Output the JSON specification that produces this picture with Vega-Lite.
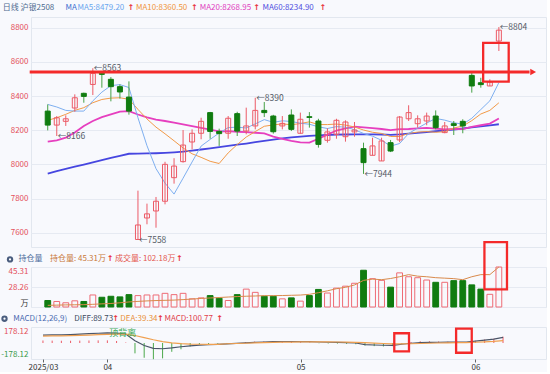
{
"$schema": "https://vega.github.io/schema/vega-lite/v6.json",
"background": "#f8f9fd",
"padding": {"left": 0, "top": 3, "right": 0, "bottom": 0},
"autosize": {"type": "pad"},
"spacing": 20,
"bounds": "flush",
"config": {"font": "Noto Sans CJK SC", "view": {"stroke": "#e2e7ef"}, "axis": {"domain": false, "ticks": false, "labelFontSize": 8, "gridColor": "#e6eaf2", "labelFont": "Noto Sans CJK SC", "labelOverlap": false}},
"datasets": {
"k": [
{"i":0,"d":"2025-03-21","o":8312,"h":8351,"l":8199,"c":8230,"v":16.6,"oi":12.6,"m5":8351,"m10":8258,"m20":8133,"m60":7946,"df":126,"de":110,"mc":40},
{"i":1,"d":"2025-03-24","o":8230,"h":8283,"l":8166,"c":8273,"v":14.1,"oi":12.8,"m5":8336,"m10":8273,"m20":8141,"m60":7960,"df":128,"de":112,"mc":38},
{"i":2,"d":"2025-03-25","o":8252,"h":8287,"l":8225,"c":8267,"v":10.8,"oi":13.0,"m5":8316,"m10":8293,"m20":8156,"m60":7973,"df":130,"de":115,"mc":36},
{"i":3,"d":"2025-03-26","o":8330,"h":8410,"l":8308,"c":8390,"v":15.8,"oi":13.1,"m5":8312,"m10":8316,"m20":8186,"m60":7986,"df":134,"de":118,"mc":36},
{"i":4,"d":"2025-03-27","o":8416,"h":8420,"l":8361,"c":8398,"v":14.1,"oi":13.2,"m5":8312,"m10":8332,"m20":8225,"m60":7999,"df":140,"de":122,"mc":38},
{"i":5,"d":"2025-03-28","o":8468,"h":8563,"l":8406,"c":8533,"v":30.7,"oi":13.5,"m5":8372,"m10":8361,"m20":8254,"m60":8012,"df":148,"de":127,"mc":40},
{"i":6,"d":"2025-03-31","o":8533,"h":8535,"l":8449,"c":8527,"v":24.9,"oi":13.9,"m5":8423,"m10":8380,"m20":8277,"m60":8025,"df":155,"de":132,"mc":42},
{"i":7,"d":"2025-04-01","o":8498,"h":8511,"l":8369,"c":8455,"v":27.4,"oi":14.2,"m5":8461,"m10":8388,"m20":8293,"m60":8038,"df":160,"de":137,"mc":42},
{"i":8,"d":"2025-04-02","o":8455,"h":8468,"l":8385,"c":8424,"v":25.8,"oi":14.8,"m5":8467,"m10":8390,"m20":8309,"m60":8050,"df":158,"de":141,"mc":32},
{"i":9,"d":"2025-04-03","o":8394,"h":8486,"l":8291,"c":8312,"v":31.6,"oi":15.5,"m5":8450,"m10":8381,"m20":8312,"m60":8062,"df":142,"de":140,"mc":8},
{"i":10,"d":"2025-04-07","o":7560,"h":7846,"l":7558,"c":7645,"v":29.1,"oi":16.0,"m5":8273,"m10":8322,"m20":8292,"m60":8063,"df":35,"de":119,"mc":-165},
{"i":11,"d":"2025-04-08","o":7686,"h":7770,"l":7649,"c":7710,"v":30.7,"oi":16.4,"m5":8109,"m10":8266,"m20":8275,"m60":8064,"df":-40,"de":87,"mc":-235},
{"i":12,"d":"2025-04-09","o":7727,"h":7809,"l":7629,"c":7784,"v":30.7,"oi":16.7,"m5":7975,"m10":8218,"m20":8262,"m60":8065,"df":-85,"de":52,"mc":-258},
{"i":13,"d":"2025-04-10","o":7784,"h":8015,"l":7766,"c":8000,"v":34.9,"oi":16.9,"m5":7890,"m10":8179,"m20":8254,"m60":8067,"df":-92,"de":23,"mc":-245},
{"i":14,"d":"2025-04-11","o":7922,"h":8036,"l":7887,"c":7990,"v":31.6,"oi":17.1,"m5":7826,"m10":8138,"m20":8245,"m60":8070,"df":-78,"de":3,"mc":-140},
{"i":15,"d":"2025-04-14","o":8016,"h":8201,"l":8010,"c":8113,"v":34.9,"oi":17.5,"m5":7919,"m10":8096,"m20":8234,"m60":8074,"df":-60,"de":-10,"mc":-100},
{"i":16,"d":"2025-04-15","o":8131,"h":8205,"l":8088,"c":8182,"v":20.8,"oi":18.0,"m5":8014,"m10":8062,"m20":8224,"m60":8080,"df":-45,"de":-17,"mc":-55},
{"i":17,"d":"2025-04-16","o":8182,"h":8273,"l":8147,"c":8252,"v":23.3,"oi":18.5,"m5":8107,"m10":8041,"m20":8214,"m60":8087,"df":-35,"de":-20,"mc":-30},
{"i":18,"d":"2025-04-17","o":8303,"h":8307,"l":8150,"c":8193,"v":29.1,"oi":18.9,"m5":8146,"m10":8018,"m20":8204,"m60":8094,"df":-28,"de":-22,"mc":-18},
{"i":19,"d":"2025-04-18","o":8193,"h":8209,"l":8108,"c":8180,"v":22.4,"oi":19.3,"m5":8184,"m10":8005,"m20":8193,"m60":8101,"df":-22,"de":-22,"mc":-12},
{"i":20,"d":"2025-04-21","o":8182,"h":8283,"l":8150,"c":8270,"v":16.6,"oi":19.7,"m5":8215,"m10":8067,"m20":8195,"m60":8108,"df":-14,"de":-12,"mc":-8},
{"i":21,"d":"2025-04-22","o":8297,"h":8308,"l":8166,"c":8195,"v":31.6,"oi":20.1,"m5":8218,"m10":8116,"m20":8191,"m60":8115,"df":-6,"de":-8,"mc":-5},
{"i":22,"d":"2025-04-23","o":8195,"h":8332,"l":8176,"c":8225,"v":45.7,"oi":20.4,"m5":8213,"m10":8160,"m20":8189,"m60":8122,"df":2,"de":-4,"mc":15},
{"i":23,"d":"2025-04-24","o":8225,"h":8390,"l":8205,"c":8316,"v":37.4,"oi":20.6,"m5":8237,"m10":8192,"m20":8185,"m60":8130,"df":10,"de":1,"mc":22},
{"i":24,"d":"2025-04-25","o":8316,"h":8365,"l":8277,"c":8303,"v":27.4,"oi":20.9,"m5":8262,"m10":8223,"m20":8181,"m60":8137,"df":16,"de":6,"mc":25},
{"i":25,"d":"2025-04-28","o":8283,"h":8290,"l":8180,"c":8191,"v":27.4,"oi":20.9,"m5":8246,"m10":8231,"m20":8163,"m60":8145,"df":22,"de":10,"mc":22},
{"i":26,"d":"2025-04-29","o":8225,"h":8283,"l":8205,"c":8240,"v":20.8,"oi":21.0,"m5":8255,"m10":8237,"m20":8149,"m60":8152,"df":24,"de":13,"mc":20},
{"i":27,"d":"2025-04-30","o":8289,"h":8322,"l":8195,"c":8205,"v":23.3,"oi":21.2,"m5":8251,"m10":8232,"m20":8137,"m60":8158,"df":24,"de":15,"mc":18},
{"i":28,"d":"2025-05-06","o":8182,"h":8303,"l":8180,"c":8264,"v":15.0,"oi":21.4,"m5":8241,"m10":8239,"m20":8129,"m60":8163,"df":23,"de":17,"mc":12},
{"i":29,"d":"2025-05-07","o":8279,"h":8306,"l":8215,"c":8275,"v":29.1,"oi":22.0,"m5":8235,"m10":8249,"m20":8127,"m60":8167,"df":22,"de":18,"mc":8},
{"i":30,"d":"2025-05-08","o":8254,"h":8267,"l":8098,"c":8117,"v":44.9,"oi":23.4,"m5":8220,"m10":8233,"m20":8150,"m60":8170,"df":16,"de":18,"mc":-4},
{"i":31,"d":"2025-05-09","o":8141,"h":8211,"l":8127,"c":8190,"v":35.7,"oi":25.0,"m5":8210,"m10":8233,"m20":8174,"m60":8172,"df":12,"de":17,"mc":-8},
{"i":32,"d":"2025-05-12","o":8176,"h":8267,"l":8150,"c":8258,"v":48.2,"oi":26.8,"m5":8221,"m10":8236,"m20":8198,"m60":8174,"df":10,"de":16,"mc":-10},
{"i":33,"d":"2025-05-13","o":8162,"h":8258,"l":8133,"c":8248,"v":53.2,"oi":28.0,"m5":8218,"m10":8230,"m20":8211,"m60":8175,"df":6,"de":14,"mc":-14},
{"i":34,"d":"2025-05-14","o":8190,"h":8248,"l":8162,"c":8201,"v":60.6,"oi":30.0,"m5":8203,"m10":8219,"m20":8221,"m60":8176,"df":0,"de":11,"mc":-20},
{"i":35,"d":"2025-05-15","o":8092,"h":8127,"l":7944,"c":8010,"v":93.9,"oi":33.9,"m5":8181,"m10":8201,"m20":8216,"m60":8176,"df":-25,"de":5,"mc":-40},
{"i":36,"d":"2025-05-16","o":8053,"h":8156,"l":8053,"c":8108,"v":72.3,"oi":35.0,"m5":8165,"m10":8188,"m20":8212,"m60":8176,"df":-32,"de":-2,"mc":-50},
{"i":37,"d":"2025-05-19","o":8020,"h":8156,"l":8020,"c":8137,"v":68.1,"oi":34.5,"m5":8141,"m10":8181,"m20":8207,"m60":8175,"df":-36,"de":-8,"mc":-55},
{"i":38,"d":"2025-05-20","o":8127,"h":8143,"l":8072,"c":8078,"v":50.7,"oi":35.5,"m5":8107,"m10":8163,"m20":8201,"m60":8173,"df":-38,"de":-13,"mc":-50},
{"i":39,"d":"2025-05-21","o":8143,"h":8283,"l":8130,"c":8277,"v":87.2,"oi":37.0,"m5":8122,"m10":8163,"m20":8206,"m60":8175,"df":-20,"de":-14,"mc":-12},
{"i":40,"d":"2025-05-22","o":8267,"h":8346,"l":8254,"c":8303,"v":77.3,"oi":38.8,"m5":8181,"m10":8181,"m20":8207,"m60":8180,"df":-4,"de":-12,"mc":16},
{"i":41,"d":"2025-05-23","o":8238,"h":8287,"l":8215,"c":8267,"v":74.8,"oi":37.5,"m5":8212,"m10":8189,"m20":8211,"m60":8184,"df":6,"de":-8,"mc":28},
{"i":42,"d":"2025-05-26","o":8254,"h":8303,"l":8229,"c":8283,"v":68.9,"oi":37.0,"m5":8242,"m10":8192,"m20":8214,"m60":8189,"df":10,"de":-4,"mc":28},
{"i":43,"d":"2025-05-27","o":8283,"h":8316,"l":8205,"c":8215,"v":63.1,"oi":36.2,"m5":8269,"m10":8188,"m20":8209,"m60":8194,"df":12,"de":0,"mc":24},
{"i":44,"d":"2025-05-28","o":8186,"h":8248,"l":8182,"c":8225,"v":63.1,"oi":35.8,"m5":8259,"m10":8191,"m20":8205,"m60":8199,"df":13,"de":3,"mc":20},
{"i":45,"d":"2025-05-29","o":8238,"h":8254,"l":8172,"c":8228,"v":67.3,"oi":35.4,"m5":8244,"m10":8213,"m20":8207,"m60":8204,"df":14,"de":5,"mc":18},
{"i":46,"d":"2025-05-30","o":8252,"h":8264,"l":8182,"c":8225,"v":67.3,"oi":34.5,"m5":8235,"m10":8224,"m20":8206,"m60":8210,"df":15,"de":7,"mc":16},
{"i":47,"d":"2025-06-03","o":8521,"h":8537,"l":8420,"c":8459,"v":56.5,"oi":37.0,"m5":8270,"m10":8256,"m20":8219,"m60":8216,"df":30,"de":12,"mc":36},
{"i":48,"d":"2025-06-04","o":8478,"h":8507,"l":8449,"c":8467,"v":45.7,"oi":38.8,"m5":8321,"m10":8295,"m20":8229,"m60":8222,"df":46,"de":18,"mc":56},
{"i":49,"d":"2025-06-05","o":8459,"h":8498,"l":8459,"c":8482,"v":32.4,"oi":38.8,"m5":8372,"m10":8316,"m20":8239,"m60":8228,"df":62,"de":27,"mc":70},
{"i":50,"d":"2025-06-06","o":8722,"h":8804,"l":8664,"c":8786,"v":102.18,"oi":45.31,"m5":8479.2,"m10":8360.5,"m20":8268.95,"m60":8234.9,"df":89.73,"de":39.34,"mc":100.77}
],
"n": [
{"i":5,"p":8563,"t":"←8563"},
{"i":1,"p":8166,"t":"←8166"},
{"i":10,"p":7558,"t":"←7558"},
{"i":23,"p":8390,"t":"←8390"},
{"i":35,"p":7944,"t":"←7944"},
{"i":50,"p":8804,"t":"←8804"}
]
},
"vconcat": [
{
"width": 515, "height": 230,
"data": {"name": "k"},
"layer": [
{"mark": {"type": "line", "color": "#4646e0", "strokeWidth": 1.8},
 "encoding": {"x": {"field": "i", "type": "quantitative", "scale": {"domain": [-1.3, 54.67], "nice": false, "zero": false}, "axis": null},
  "y": {"field": "m60", "type": "quantitative", "scale": {"domain": [7516, 8863], "nice": false, "zero": false},
   "axis": {"values": [7600, 7800, 8000, 8200, 8400, 8600, 8800], "tickCount": 20, "format": "d", "grid": true, "labelOverlap": false, "labelColor": "#e4505a", "labelPadding": 3, "title": null}}}},
{"mark": {"type": "line", "color": "#e63fbf", "strokeWidth": 1.8},
 "encoding": {"x": {"field": "i", "type": "quantitative"}, "y": {"field": "m20", "type": "quantitative"}}},
{"mark": {"type": "line", "color": "#f29a48", "strokeWidth": 1},
 "encoding": {"x": {"field": "i", "type": "quantitative"}, "y": {"field": "m10", "type": "quantitative"}}},
{"mark": {"type": "line", "color": "#7eaff0", "strokeWidth": 1},
 "encoding": {"x": {"field": "i", "type": "quantitative"}, "y": {"field": "m5", "type": "quantitative"}}},
{"mark": {"type": "rule", "strokeWidth": 1},
 "encoding": {"x": {"field": "i", "type": "quantitative"}, "y": {"field": "l", "type": "quantitative"}, "y2": {"field": "h"},
  "color": {"condition": {"test": "datum.c >= datum.o", "value": "#ec5b67"}, "value": "#46a046"}}},
{"mark": {"type": "bar", "size": 5, "strokeWidth": 1},
 "encoding": {"x": {"field": "i", "type": "quantitative"}, "y": {"field": "o", "type": "quantitative"}, "y2": {"field": "c"},
  "fill": {"condition": {"test": "datum.c >= datum.o", "value": "transparent"}, "value": "#107c10"},
  "stroke": {"condition": {"test": "datum.c >= datum.o", "value": "#ec5b67"}, "value": "#107c10"}}},
{"data": {"name": "n"},
 "mark": {"type": "text", "align": "left", "baseline": "middle", "dx": 1, "fontSize": 8.5, "color": "#555b66"},
 "encoding": {"x": {"field": "i", "type": "quantitative"}, "y": {"field": "p", "type": "quantitative"}, "text": {"field": "t"}}},
{"data": {"values": [{}]},
 "mark": {"type": "rule", "color": "#f42a2a", "strokeWidth": 3},
 "encoding": {"x": {"datum": -2.0}, "x2": {"datum": 53.4}, "y": {"datum": 8541}}},
{"data": {"values": [{}]},
 "mark": {"type": "point", "shape": "triangle-right", "filled": true, "size": 45, "color": "#f42a2a", "opacity": 1},
 "encoding": {"x": {"datum": 53.8}, "y": {"datum": 8541}}},
{"data": {"values": [{}]},
 "mark": {"type": "rect", "filled": false, "color": "#f42a2a", "strokeWidth": 2.3},
 "encoding": {"x": {"datum": 48.26}, "x2": {"datum": 51.09}, "y": {"datum": 8712}, "y2": {"datum": 8484}}},
{"data": {"values": [{}]}, "mark": {"type": "text", "align": "left", "baseline": "middle", "fontSize": 8, "color": "#4d6a8f"},
 "encoding": {"x": {"datum": -4.99}, "y": {"datum": 8915}, "text": {"value": "日线 沪银2508"}}},
{"data": {"values": [{}]}, "mark": {"type": "text", "align": "left", "baseline": "middle", "fontSize": 8, "color": "#3d6fd0"},
 "encoding": {"x": {"datum": 1.96}, "y": {"datum": 8915}, "text": {"value": "MA"}}},
{"data": {"values": [{}]}, "mark": {"type": "text", "align": "left", "baseline": "middle", "fontSize": 8, "color": "#6aa6ee"},
 "encoding": {"x": {"datum": 3.29}, "y": {"datum": 8915}, "text": {"value": "MA5:8479.20"}}},
{"data": {"values": [{}]}, "mark": {"type": "text", "align": "center", "baseline": "middle", "font": "DejaVu Sans", "fontSize": 8, "fontWeight": "bold", "color": "#e8303a"},
 "encoding": {"x": {"datum": 9.2}, "y": {"datum": 8915}, "text": {"value": "↑"}}},
{"data": {"values": [{}]}, "mark": {"type": "text", "align": "left", "baseline": "middle", "fontSize": 8, "color": "#f0963c"},
 "encoding": {"x": {"datum": 9.78}, "y": {"datum": 8915}, "text": {"value": "MA10:8360.50"}}},
{"data": {"values": [{}]}, "mark": {"type": "text", "align": "center", "baseline": "middle", "font": "DejaVu Sans", "fontSize": 8, "fontWeight": "bold", "color": "#e8303a"},
 "encoding": {"x": {"datum": 16.25}, "y": {"datum": 8915}, "text": {"value": "↑"}}},
{"data": {"values": [{}]}, "mark": {"type": "text", "align": "left", "baseline": "middle", "fontSize": 8, "color": "#e040c0"},
 "encoding": {"x": {"datum": 16.85}, "y": {"datum": 8915}, "text": {"value": "MA20:8268.95"}}},
{"data": {"values": [{}]}, "mark": {"type": "text", "align": "center", "baseline": "middle", "font": "DejaVu Sans", "fontSize": 8, "fontWeight": "bold", "color": "#e8303a"},
 "encoding": {"x": {"datum": 23.15}, "y": {"datum": 8915}, "text": {"value": "↑"}}},
{"data": {"values": [{}]}, "mark": {"type": "text", "align": "left", "baseline": "middle", "fontSize": 8, "color": "#5050e0"},
 "encoding": {"x": {"datum": 23.8}, "y": {"datum": 8915}, "text": {"value": "MA60:8234.90"}}},
{"data": {"values": [{}]}, "mark": {"type": "text", "align": "center", "baseline": "middle", "font": "DejaVu Sans", "fontSize": 8, "fontWeight": "bold", "color": "#e8303a"},
 "encoding": {"x": {"datum": 30.5}, "y": {"datum": 8915}, "text": {"value": "↑"}}}
]
},
{
"width": 515, "height": 40,
"data": {"name": "k"},
"resolve": {"scale": {"y": "independent"}},
"layer": [
{"mark": {"type": "bar", "size": 5.8, "strokeWidth": 1},
 "encoding": {"x": {"field": "i", "type": "quantitative", "scale": {"domain": [-1.3, 54.67], "nice": false, "zero": false}, "axis": null},
  "y": {"field": "v", "type": "quantitative", "scale": {"domain": [0, 102.18], "nice": false}, "axis": null}, "y2": {"datum": 0},
  "fill": {"condition": {"test": "datum.c >= datum.o", "value": "transparent"}, "value": "#107c10"},
  "stroke": {"condition": {"test": "datum.c >= datum.o", "value": "#ee6b75"}, "value": "#107c10"}}},
{"layer": [
 {"mark": {"type": "line", "color": "#d98a4c", "strokeWidth": 1},
  "encoding": {"x": {"field": "i", "type": "quantitative"},
   "y": {"field": "oi", "type": "quantitative", "scale": {"domain": [11.21, 45.31], "nice": false, "zero": false},
    "axis": {"orient": "left", "values": [11.21, 28.26, 45.31], "tickCount": 20, "grid": true, "title": null, "labelPadding": 3, "labelOverlap": false, "labelFlush": true,
     "labelExpr": "datum.value < 12 ? '万' : format(datum.value, '.2f')",
     "labelColor": {"condition": {"test": "datum.value < 12", "value": "#333333"}, "value": "#e4505a"}}}}},
 {"data": {"values": [{}]},
  "mark": {"type": "rect", "filled": false, "color": "#f42a2a", "strokeWidth": 2.3},
  "encoding": {"x": {"datum": 48.4}, "x2": {"datum": 50.9}, "y": {"datum": 66.6}, "y2": {"datum": 26.3}}},
 {"data": {"values": [{}]}, "mark": {"type": "point", "shape": "circle", "filled": true, "size": 40, "color": "#4a5d7e", "opacity": 1},
  "encoding": {"x": {"datum": -4.18}, "y": {"datum": 51.8}}},
 {"data": {"values": [{}]}, "mark": {"type": "point", "shape": "circle", "filled": true, "size": 5, "color": "#ffffff", "opacity": 1},
  "encoding": {"x": {"datum": -4.18}, "y": {"datum": 51.8}}},
 {"data": {"values": [{}]}, "mark": {"type": "text", "align": "left", "baseline": "middle", "fontSize": 8, "color": "#4a6a9a"},
  "encoding": {"x": {"datum": -3.23}, "y": {"datum": 51.8}, "text": {"value": "持仓量"}}},
 {"data": {"values": [{}]}, "mark": {"type": "text", "align": "left", "baseline": "middle", "fontSize": 8, "color": "#c8783a"},
  "encoding": {"x": {"datum": 0.25}, "y": {"datum": 51.8}, "text": {"value": "持仓量: 45.31万"}}},
 {"data": {"values": [{}]}, "mark": {"type": "text", "align": "center", "baseline": "middle", "font": "DejaVu Sans", "fontSize": 8, "fontWeight": "bold", "color": "#e8303a"},
  "encoding": {"x": {"datum": 6.9}, "y": {"datum": 51.8}, "text": {"value": "↑"}}},
 {"data": {"values": [{}]}, "mark": {"type": "text", "align": "left", "baseline": "middle", "fontSize": 8, "color": "#e4574e"},
  "encoding": {"x": {"datum": 7.45}, "y": {"datum": 51.8}, "text": {"value": "成交量: 102.18万"}}},
 {"data": {"values": [{}]}, "mark": {"type": "text", "align": "center", "baseline": "middle", "font": "DejaVu Sans", "fontSize": 8, "fontWeight": "bold", "color": "#e8303a"},
  "encoding": {"x": {"datum": 14.6}, "y": {"datum": 51.8}, "text": {"value": "↑"}}}
]}
]
},
{
"width": 515, "height": 32,
"data": {"name": "k"},
"layer": [
{"mark": {"type": "rule", "strokeWidth": 1},
 "encoding": {"x": {"field": "i", "type": "quantitative", "scale": {"domain": [-1.3, 54.67], "nice": false, "zero": false},
   "axis": {"values": [0, 7, 28, 47], "tickCount": 20, "ticks": true, "tickSize": 3, "tickColor": "#666666", "labelColor": "#333333", "labelPadding": 1, "grid": false, "title": null, "labelOverlap": false,
    "labelExpr": "datum.value == 0 ? '2025/03' : datum.value == 7 ? '04' : datum.value == 28 ? '05' : '06'"}},
  "y": {"field": "mc", "type": "quantitative", "scale": {"domain": [-255, 255], "nice": false, "zero": false},
   "axis": {"values": [-178.12, 178.12], "tickCount": 20, "grid": false, "title": null, "labelPadding": 3, "labelOverlap": false,
    "labelExpr": "datum.value > 0 ? '178.12' : '-178.12'",
    "labelColor": {"condition": {"test": "datum.value < 0", "value": "#3a9a4a"}, "value": "#e4505a"}}},
  "y2": {"datum": 0},
  "color": {"condition": {"test": "datum.mc >= 0", "value": "#ec5b67"}, "value": "#4aa84a"}}},
{"mark": {"type": "line", "color": "#4a5568", "strokeWidth": 1.2},
 "encoding": {"x": {"field": "i", "type": "quantitative"}, "y": {"field": "df", "type": "quantitative"}}},
{"mark": {"type": "line", "color": "#f0a050", "strokeWidth": 1.2},
 "encoding": {"x": {"field": "i", "type": "quantitative"}, "y": {"field": "de", "type": "quantitative"}}},
{"data": {"values": [{}]}, "mark": {"type": "text", "align": "center", "baseline": "middle", "fontSize": 9, "color": "#3aaa58"},
 "encoding": {"x": {"datum": 8.66}, "y": {"datum": 164}, "text": {"value": "顶背离"}}},
{"data": {"values": [{}]},
 "mark": {"type": "rect", "filled": false, "color": "#f42a2a", "strokeWidth": 2.3},
 "encoding": {"x": {"datum": 38.18}, "x2": {"datum": 39.78}, "y": {"datum": 155}, "y2": {"datum": -132}}},
{"data": {"values": [{}]},
 "mark": {"type": "rect", "filled": false, "color": "#f42a2a", "strokeWidth": 2.3},
 "encoding": {"x": {"datum": 44.9}, "x2": {"datum": 46.6}, "y": {"datum": 228}, "y2": {"datum": -155}}},
{"data": {"values": [{}]}, "mark": {"type": "point", "shape": "circle", "filled": true, "size": 40, "color": "#4a5d7e", "opacity": 1},
 "encoding": {"x": {"datum": -4.18}, "y": {"datum": 387}}},
{"data": {"values": [{}]}, "mark": {"type": "point", "shape": "circle", "filled": true, "size": 5, "color": "#ffffff", "opacity": 1},
 "encoding": {"x": {"datum": -4.18}, "y": {"datum": 387}}},
{"data": {"values": [{}]}, "mark": {"type": "text", "align": "left", "baseline": "middle", "fontSize": 8, "color": "#4a6ab0"},
 "encoding": {"x": {"datum": -3.23}, "y": {"datum": 387}, "text": {"value": "MACD(12,26,9)"}}},
{"data": {"values": [{}]}, "mark": {"type": "text", "align": "left", "baseline": "middle", "fontSize": 8, "color": "#3d4b5f"},
 "encoding": {"x": {"datum": 3.4}, "y": {"datum": 387}, "text": {"value": "DIFF:89.73"}}},
{"data": {"values": [{}]}, "mark": {"type": "text", "align": "center", "baseline": "middle", "font": "DejaVu Sans", "fontSize": 8, "fontWeight": "bold", "color": "#e8303a"},
 "encoding": {"x": {"datum": 7.9}, "y": {"datum": 387}, "text": {"value": "↑"}}},
{"data": {"values": [{}]}, "mark": {"type": "text", "align": "left", "baseline": "middle", "fontSize": 8, "color": "#e8903a"},
 "encoding": {"x": {"datum": 8.4}, "y": {"datum": 387}, "text": {"value": "DEA:39.34"}}},
{"data": {"values": [{}]}, "mark": {"type": "text", "align": "center", "baseline": "middle", "font": "DejaVu Sans", "fontSize": 8, "fontWeight": "bold", "color": "#e8303a"},
 "encoding": {"x": {"datum": 12.75}, "y": {"datum": 387}, "text": {"value": "↑"}}},
{"data": {"values": [{}]}, "mark": {"type": "text", "align": "left", "baseline": "middle", "fontSize": 8, "color": "#e0404a"},
 "encoding": {"x": {"datum": 13.2}, "y": {"datum": 387}, "text": {"value": "MACD:100.77"}}},
{"data": {"values": [{}]}, "mark": {"type": "text", "align": "center", "baseline": "middle", "font": "DejaVu Sans", "fontSize": 8, "fontWeight": "bold", "color": "#e8303a"},
 "encoding": {"x": {"datum": 19.2}, "y": {"datum": 387}, "text": {"value": "↑"}}}
]
}
]
}
